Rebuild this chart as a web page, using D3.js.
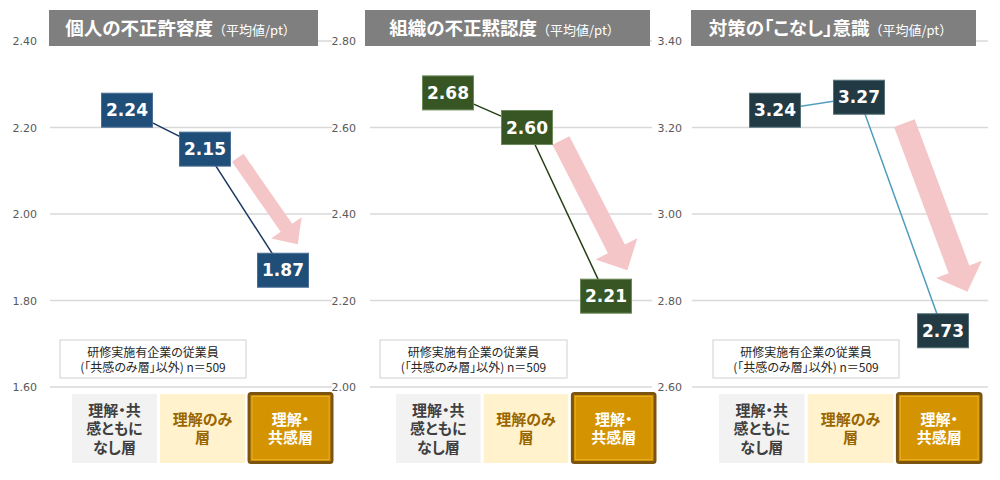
<!DOCTYPE html>
<html><head><meta charset="utf-8">
<script src="https://cdn.jsdelivr.net/npm/d3@7"></script>
<style>body{margin:0;background:#fff} svg{display:block} .jp{font-feature-settings:"palt" 1;}</style>
</head><body><svg id="c" width="1000" height="480"></svg>
<script>
// ---------- data ----------
const categories = ["理解・共感ともになし層","理解のみ層","理解・共感層"];
const categoryLines = [["理解・共","感ともに","なし層"],["理解のみ","層"],["理解・","共感層"]];
const titles = ["個人の不正許容度","組織の不正黙認度","対策の「こなし」意識"];
const titleUnit = "（平均値/pt）";
const individualTolerance = [2.24, 2.15, 1.87];
const orgTacitApproval = [2.68, 2.60, 2.21];
const routineAwareness = [3.24, 3.27, 2.73];
const ticks1 = [1.60, 1.80, 2.00, 2.20, 2.40];
const ticks2 = [2.00, 2.20, 2.40, 2.60, 2.80];
const ticks3 = [2.60, 2.80, 3.00, 3.20, 3.40];
const noteLines = ["研修実施有企業の従業員", "(「共感のみ層」以外) n＝509"];
// trend arrows: [from category index, from value, to category index, to value]
const arrow1 = [1.42, 2.13, 2.19, 1.93];
const arrow2 = [1.43, 2.57, 2.27, 2.27];
const arrow3 = [1.54, 3.21, 2.29, 2.82];

// ---------- layout / style ----------
const panels = [
  {values: individualTolerance, ticks: ticks1, title: titles[0], arrow: arrow1,
   axisX: 37, grid: [50, 332], pts: [127, 283], band: [72, 333], tbox: [49, 318], note: [60, 246],
   boxFill: "#1f4e79", boxStroke: "#4a6f96", line: "#1f3864", arr: {w: 14, hw: 37, hl: 20}},
  {values: orgTacitApproval, ticks: ticks2, title: titles[1], arrow: arrow2,
   axisX: 356, grid: [370, 652], pts: [448, 606], band: [396, 656], tbox: [365, 650], note: [380, 567],
   boxFill: "#375623", boxStroke: "#6d8a5a", line: "#263f16", arr: {w: 19, hw: 47, hl: 24}},
  {values: routineAwareness, ticks: ticks3, title: titles[2], arrow: arrow3,
   axisX: 682, grid: [692, 988], pts: [775, 943], band: [719, 982], tbox: [691, 976], note: [713, 899],
   boxFill: "#223a44", boxStroke: "#53707a", line: "#4f9dbd", arr: {w: 22, hw: 49, hl: 24}}
];
const yTop = 41, yBot = 387;
const jp = "'Noto Sans CJK JP','Noto Sans',sans-serif";
const num = "'DejaVu Sans',Verdana,sans-serif";

const svg = d3.select("#c");

panels.forEach(p => {
  const g = svg.append("g");
  const y = d3.scaleLinear().domain([d3.min(p.ticks), d3.max(p.ticks)]).range([yBot, yTop]);
  const x = d3.scalePoint().domain(categories).range(p.pts);
  const xi = d3.scaleLinear().domain([0, categories.length - 1]).range(p.pts);
  const band = d3.scaleBand().domain(categories).range(p.band).paddingInner(0.035);

  // gridlines
  g.selectAll("line.grid").data(p.ticks).join("line")
    .attr("x1", p.grid[0]).attr("x2", p.grid[1])
    .attr("y1", d => y(d)).attr("y2", d => y(d))
    .attr("stroke", "#d9d9d9").attr("stroke-width", 1.3);

  // axis labels
  const axis = d3.axisLeft(y).tickValues(p.ticks).tickFormat(d3.format(".2f")).tickSize(0).tickPadding(0);
  const ag = g.append("g").attr("transform", `translate(${p.axisX},0)`).call(axis);
  ag.select(".domain").remove();
  ag.selectAll("text").attr("font-family", num).attr("font-size", 11).attr("fill", "#595959");

  // title
  g.append("rect").attr("x", p.tbox[0]).attr("y", 10).attr("width", p.tbox[1] - p.tbox[0]).attr("height", 36)
    .attr("fill", "#7f7f7f");
  const tt = g.append("text").attr("x", (p.tbox[0] + p.tbox[1]) / 2 - 3).attr("y", 35)
    .attr("text-anchor", "middle").attr("font-family", jp).attr("fill", "#fff");
  tt.append("tspan").attr("class", "jp").attr("font-size", 18.5).attr("font-weight", 700).text(p.title);
  tt.append("tspan").attr("font-size", 13).attr("font-weight", 400).text(titleUnit);

  // arrow
  const a = p.arrow;
  const S = [xi(a[0]), y(a[1])], T = [xi(a[2]), y(a[3])];
  const dx = T[0] - S[0], dy = T[1] - S[1], L = Math.hypot(dx, dy);
  const u = [dx / L, dy / L], n = [-u[1], u[0]];
  const B = [T[0] - u[0] * p.arr.hl, T[1] - u[1] * p.arr.hl];
  const off = (P, k) => [P[0] + n[0] * k, P[1] + n[1] * k];
  const poly = [off(S, p.arr.w / 2), off(B, p.arr.w / 2), off(B, p.arr.hw / 2), T,
                off(B, -p.arr.hw / 2), off(B, -p.arr.w / 2), off(S, -p.arr.w / 2)];
  g.append("polygon").attr("points", poly.map(q => q.join(",")).join(" ")).attr("fill", "#f4c6c8");

  // connecting line
  const line = d3.line().x((d, i) => x(categories[i])).y(d => y(d));
  g.append("path").attr("d", line(p.values)).attr("fill", "none")
    .attr("stroke", p.line).attr("stroke-width", 1.5);

  // value boxes
  const bw = 51, bh = 34;
  const vb = g.selectAll("g.vb").data(p.values).join("g")
    .attr("transform", (d, i) => `translate(${x(categories[i])},${y(d)})`);
  vb.append("rect").attr("x", -bw / 2).attr("y", -bh / 2).attr("width", bw).attr("height", bh)
    .attr("fill", p.boxFill).attr("stroke", p.boxStroke).attr("stroke-width", 1);
  vb.append("text").attr("text-anchor", "middle").attr("dy", "0.36em")
    .attr("font-family", num).attr("font-weight", 700).attr("font-size", 17).attr("fill", "#fff")
    .text(d => d3.format(".2f")(d));

  // note box (one text element, lines as tspans)
  g.append("rect").attr("x", p.note[0]).attr("y", 340).attr("width", p.note[1] - p.note[0]).attr("height", 38)
    .attr("fill", "#fff").attr("stroke", "#d0d0d0").attr("stroke-width", 1);
  const nx = (p.note[0] + p.note[1]) / 2;
  const nt = g.append("text").attr("class", "jp").attr("text-anchor", "middle")
    .attr("font-family", jp).attr("font-size", 12).attr("fill", "#262626");
  nt.selectAll("tspan").data(noteLines).join("tspan")
    .attr("x", nx).attr("y", (d, i) => 357 + i * 14.5).text(d => d);

  // category boxes
  const catFill = ["#f2f2f2", "#fff2cc", "#d49300"];
  const catText = ["#404040", "#9a6600", "#ffffff"];
  categories.forEach((c, i) => {
    const bx = band(c), bwid = band.bandwidth();
    if (i === 2) {
      g.append("rect").attr("x", bx + 1).attr("y", 393.5).attr("width", bwid - 2).attr("height", 69)
        .attr("rx", 2).attr("fill", catFill[i]).attr("stroke", "#7a5410").attr("stroke-width", 3);
      g.append("rect").attr("x", bx + 4).attr("y", 396.5).attr("width", bwid - 8).attr("height", 63)
        .attr("fill", "none").attr("stroke", "#e8aa1c").attr("stroke-width", 1);
    } else {
      g.append("rect").attr("x", bx).attr("y", 394).attr("width", bwid).attr("height", 69)
        .attr("fill", catFill[i]);
    }
    const lines = categoryLines[i];
    const cy = 428.5, lh = 18.5;
    const ct = g.append("text").attr("class", "jp").attr("text-anchor", "middle")
      .attr("font-family", jp).attr("font-weight", 700).attr("font-size", 15).attr("fill", catText[i]);
    ct.selectAll("tspan").data(lines).join("tspan")
      .attr("x", bx + bwid / 2)
      .attr("y", (d, k) => cy + 5.5 + (k - (lines.length - 1) / 2) * lh)
      .text(d => d);
  });
});
</script></body></html>
